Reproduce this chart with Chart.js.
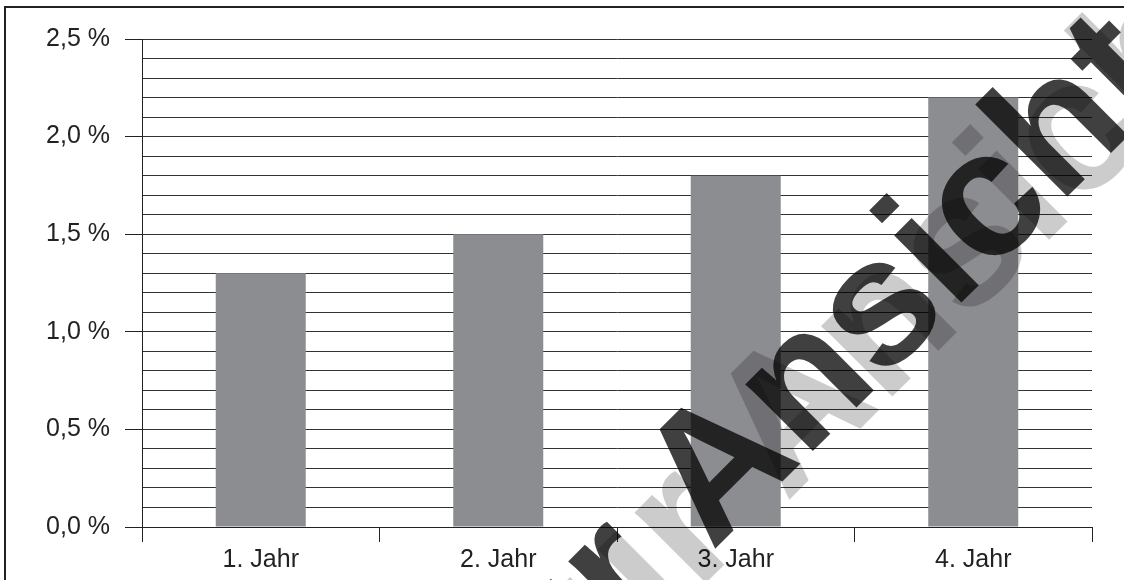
<!DOCTYPE html>
<html>
<head>
<meta charset="utf-8">
<script src="https://cdn.jsdelivr.net/npm/chart.js@4/dist/chart.umd.min.js"></script>
<style>
  html, body { margin: 0; padding: 0; background: #fff; }
  canvas { display: block; }
</style>
</head>
<body>
<canvas id="chart" width="1124" height="580"></canvas>
<script>
const YEARS = ['1. Jahr', '2. Jahr', '3. Jahr', '4. Jahr'];
const RATES = [1.3, 1.5, 1.8, 2.2];
const Y_MIN = 0;
const Y_MAX = 2.5;
const Y_STEP = 0.1;

const isMajor = (v) => Math.abs(v * 2 - Math.round(v * 2)) < 1e-6;
const fmt = (v) => v.toFixed(1).replace('.', ',') + ' %';

// white page and the two visible edges of the frame
const frame = {
    id: 'frame',
    beforeDraw: (chart) => {
        const ctx = chart.ctx;
        ctx.save();
        ctx.fillStyle = '#fff';
        ctx.fillRect(0, 0, chart.width, chart.height);
        ctx.restore();
    },
    afterDraw: (chart) => {
        const ctx = chart.ctx;
        ctx.save();
        ctx.strokeStyle = '#222';
        ctx.lineWidth = 2;
        ctx.beginPath();
        ctx.moveTo(5, chart.height);
        ctx.lineTo(5, 7);
        ctx.lineTo(chart.width, 7);
        ctx.stroke();
        ctx.restore();
    }
};

// diagonal "zur Ansicht" stamp over the chart
const stamp = {
    id: 'stamp',
    afterDraw: (chart) => {
        const ctx = chart.ctx;
        const put = (size, ax, ay, colour) => {
            ctx.save();
            ctx.font = 'bold ' + size + 'px "Liberation Sans", Arial, sans-serif';
            ctx.fillStyle = colour;
            ctx.textBaseline = 'alphabetic';
            ctx.translate(ax, ay);
            ctx.rotate(-Math.PI / 4);
            const pre = ctx.measureText('zur ').width;
            ctx.fillText('zur Ansicht', -pre, 0);
            ctx.restore();
        };
        put(190, 786, 503, 'rgba(0,0,0,0.2)');
        put(180, 712, 552, 'rgba(0,0,0,0.75)');
    }
};

new Chart(document.querySelector('#chart'), {
    type: 'bar',
    data: {
        labels: YEARS,
        datasets: [
            {
                data: RATES,
                backgroundColor: '#8c8d91',
                borderWidth: 0,
                barPercentage: 0.379,
                categoryPercentage: 1
            }
        ]
    },
    options: {
        responsive: false,
        animation: false,
        devicePixelRatio: 1,
        layout: { padding: { top: 39, right: 32, left: 0, bottom: 0 } },
        plugins: {
            legend: { display: false },
            tooltip: { enabled: false }
        },
        scales: {
            x: {
                grid: {
                    offset: true,
                    drawOnChartArea: false,
                    tickLength: 15,
                    tickColor: '#222'
                },
                border: { color: '#222', width: 1 },
                ticks: {
                    color: '#222',
                    padding: 3,
                    font: { family: '"Liberation Sans", Arial, sans-serif', size: 25 }
                },
                afterFit: (s) => { s.height = 53; }
            },
            y: {
                min: Y_MIN,
                max: Y_MAX,
                grid: {
                    color: '#333',
                    lineWidth: 1,
                    tickLength: 17,
                    tickColor: (c) => (c.tick && isMajor(c.tick.value)) ? '#222' : 'rgba(0,0,0,0)'
                },
                border: { color: '#222', width: 1 },
                ticks: {
                    stepSize: Y_STEP,
                    autoSkip: false,
                    padding: 15,
                    color: '#222',
                    font: { family: '"Liberation Sans", Arial, sans-serif', size: 25 },
                    callback: (v) => isMajor(v) ? fmt(v) : ''
                },
                afterFit: (s) => { s.width = 142; }
            }
        }
    },
    plugins: [frame, stamp]
});
</script>
</body>
</html>
